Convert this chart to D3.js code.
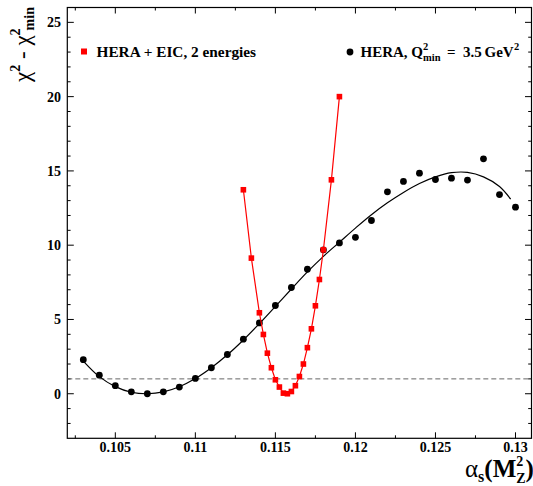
<!DOCTYPE html>
<html>
<head>
<meta charset="utf-8">
<script src="https://cdn.jsdelivr.net/npm/d3@7"></script>
<style>
  html, body { margin: 0; padding: 0; background: #fff; }
  svg { display: block; }
</style>
</head>
<body>
<svg id="chart" width="533" height="486"></svg>
<script>
// ---- data ----
const heraX = [0.103,0.104,0.105,0.106,0.107,0.108,0.109,0.110,0.111,0.112,0.113,0.114,0.115,0.116,0.117,0.118,0.119,0.120,0.121,0.122,0.123,0.124,0.125,0.126,0.127,0.128,0.129,0.130];
const heraY = [2.29,1.25,0.54,0.13,0.0,0.13,0.45,1.03,1.75,2.64,3.67,4.77,5.94,7.15,8.38,9.69,10.15,10.53,11.66,13.59,14.29,14.85,14.42,14.51,14.38,15.81,13.41,12.56];

const fitX = [0.103,0.104,0.105,0.106,0.107,0.108,0.109,0.110,0.111,0.112,0.113,0.114,0.115,0.116,0.117,0.118,0.119,0.120,0.121,0.122,0.123,0.124,0.125,0.126,0.127,0.128,0.129,0.1297];
const fitY = [2.2,1.15,0.48,0.1,0.0,0.12,0.47,1.02,1.75,2.62,3.62,4.72,5.88,7.05,8.2,9.25,10.2,11.15,12.05,12.85,13.55,14.15,14.6,14.88,14.9,14.6,13.95,13.1];

const eicX = [0.113,0.1135,0.114,0.11425,0.1145,0.11475,0.115,0.11525,0.1155,0.11575,0.116,0.11625,0.1165,0.11675,0.117,0.11725,0.1175,0.11775,0.118,0.1185,0.119];
const eicY = [13.73,9.13,5.45,3.99,2.73,1.75,0.94,0.45,0.04,0.0,0.15,0.54,1.16,2.0,3.1,4.37,5.92,7.69,9.69,14.4,20.0];

const xMajor = [0.105,0.11,0.115,0.12,0.125,0.13];
const xMajorLabels = ["0.105","0.11","0.115","0.12","0.125","0.13"];
const xMinor = [0.1025,0.1075,0.1125,0.1175,0.1225,0.1275];
const yMajor = [0,5,10,15,20,25];
const yMinor = [-2,-1,1,2,3,4,6,7,8,9,11,12,13,14,16,17,18,19,21,22,23,24,26];
const refLevel = 1;

const SERIF = "Liberation Serif";

// ---- layout ----
const L = 67.3, R = 531.5, T = 7.5, B = 438.3;
const x = d3.scaleLinear().domain([0.102, 0.131]).range([L, R]);
const y = d3.scaleLinear().domain([-3, 26]).range([B, T]);

const svg = d3.select("#chart");

// frame
svg.append("rect").attr("x", L).attr("y", T).attr("width", R - L).attr("height", B - T)
  .attr("fill", "none").attr("stroke", "#000").attr("stroke-width", 1.2);

// ticks (inward, on all four sides)
const tickG = svg.append("g").attr("stroke", "#000").attr("stroke-width", 1);
xMajor.forEach(v => {
  tickG.append("line").attr("x1", x(v)).attr("x2", x(v)).attr("y1", B).attr("y2", B - 6);
  tickG.append("line").attr("x1", x(v)).attr("x2", x(v)).attr("y1", T).attr("y2", T + 6);
});
xMinor.forEach(v => {
  tickG.append("line").attr("x1", x(v)).attr("x2", x(v)).attr("y1", B).attr("y2", B - 3);
  tickG.append("line").attr("x1", x(v)).attr("x2", x(v)).attr("y1", T).attr("y2", T + 3);
});
yMajor.forEach(v => {
  tickG.append("line").attr("x1", L).attr("x2", L + 6.5).attr("y1", y(v)).attr("y2", y(v));
  tickG.append("line").attr("x1", R).attr("x2", R - 6.5).attr("y1", y(v)).attr("y2", y(v));
});
yMinor.forEach(v => {
  tickG.append("line").attr("x1", L).attr("x2", L + 3.3).attr("y1", y(v)).attr("y2", y(v));
  tickG.append("line").attr("x1", R).attr("x2", R - 3.3).attr("y1", y(v)).attr("y2", y(v));
});

// tick labels
svg.append("g").selectAll("text").data(xMajor).join("text")
  .style("font-family", SERIF).attr("font-weight", "bold")
  .attr("x", d => x(d)).attr("y", 452).attr("text-anchor", "middle")
  .attr("font-size", 14).text((d, i) => xMajorLabels[i]);
svg.append("g").selectAll("text").data(yMajor).join("text")
  .style("font-family", SERIF).attr("font-weight", "bold")
  .attr("x", 61).attr("y", d => y(d) + 5).attr("text-anchor", "end")
  .attr("font-size", 14).text(d => d);

// dashed reference line
svg.append("line").attr("x1", L).attr("x2", R).attr("y1", y(refLevel)).attr("y2", y(refLevel))
  .attr("stroke", "#555").attr("stroke-width", 0.9).attr("stroke-dasharray", "5,3");

// black fit curve
const fitData = fitX.map((v, i) => [v, fitY[i]]);
svg.append("path").datum(fitData)
  .attr("d", d3.line().x(d => x(d[0])).y(d => y(d[1])).curve(d3.curveCatmullRom))
  .attr("fill", "none").attr("stroke", "#000").attr("stroke-width", 1.2);

// black points
svg.append("g").selectAll("circle").data(heraX.map((v, i) => [v, heraY[i]])).join("circle")
  .attr("cx", d => x(d[0])).attr("cy", d => y(d[1])).attr("r", 3.4).attr("fill", "#000");

// red line + squares
const eicData = eicX.map((v, i) => [v, eicY[i]]);
svg.append("path").datum(eicData)
  .attr("d", d3.line().x(d => x(d[0])).y(d => y(d[1])))
  .attr("fill", "none").attr("stroke", "#ff0000").attr("stroke-width", 1.2);
const sq = 5.6;
svg.append("g").selectAll("rect").data(eicData).join("rect")
  .attr("x", d => x(d[0]) - sq / 2).attr("y", d => y(d[1]) - sq / 2)
  .attr("width", sq).attr("height", sq).attr("fill", "#ff0000");

// legend
svg.append("rect").attr("x", 81).attr("y", 48.5).attr("width", 6).attr("height", 6).attr("fill", "#ff0000");
svg.append("text").attr("x", 96.5).attr("y", 56.5).attr("font-size", 15.3)
  .style("font-family", SERIF).attr("font-weight", "bold").text("HERA + EIC, 2 energies");

svg.append("circle").attr("cx", 350).attr("cy", 52).attr("r", 3.4).attr("fill", "#000");
const lt = svg.append("text").attr("y", 56.5).attr("font-size", 15)
  .style("font-family", SERIF).attr("font-weight", "bold");
lt.append("tspan").attr("x", 360.5).text("HERA, Q");
lt.append("tspan").attr("x", 423).attr("font-size", 10.5).attr("dy", -6.5).text("2");
lt.append("tspan").attr("x", 423).attr("font-size", 10.5).attr("dy", 10.5).text("min");
lt.append("tspan").attr("x", 447).attr("dy", -4).text("=");
lt.append("tspan").attr("x", 463).text("3.5");
lt.append("tspan").attr("x", 484.5).text("GeV");
lt.append("tspan").attr("x", 514).attr("font-size", 10.5).attr("dy", -6.5).text("2");

// y axis title (rotated)
const yt = svg.append("text").attr("transform", "translate(30,82) rotate(-90)")
  .attr("font-size", 23).style("font-family", SERIF);
yt.append("tspan").text("χ");
yt.append("tspan").attr("font-size", 14).attr("font-weight", "bold").attr("dy", -10).text("2");
yt.append("tspan").attr("dy", 10).text(" - χ");
yt.append("tspan").attr("font-size", 14).attr("font-weight", "bold").attr("dy", -10).text("2");
yt.append("tspan").attr("font-size", 14).attr("font-weight", "bold").attr("dx", -2).attr("dy", 14).text("min");

// x axis title
const xt = svg.append("text").attr("x", 465).attr("y", 477).attr("font-size", 25).style("font-family", SERIF);
xt.append("tspan").text("α");
xt.append("tspan").attr("font-size", 16).attr("dy", 5).attr("font-weight", "bold").text("s");
xt.append("tspan").attr("dy", -5).attr("font-weight", "bold").text("(M");
xt.append("tspan").attr("font-size", 14).attr("dy", -11).attr("font-weight", "bold").text("2");
xt.append("tspan").attr("font-size", 14).attr("dx", -7).attr("dy", 17).attr("font-weight", "bold").text("Z");
xt.append("tspan").attr("dy", -6).attr("font-weight", "bold").text(")");
</script>
</body>
</html>
